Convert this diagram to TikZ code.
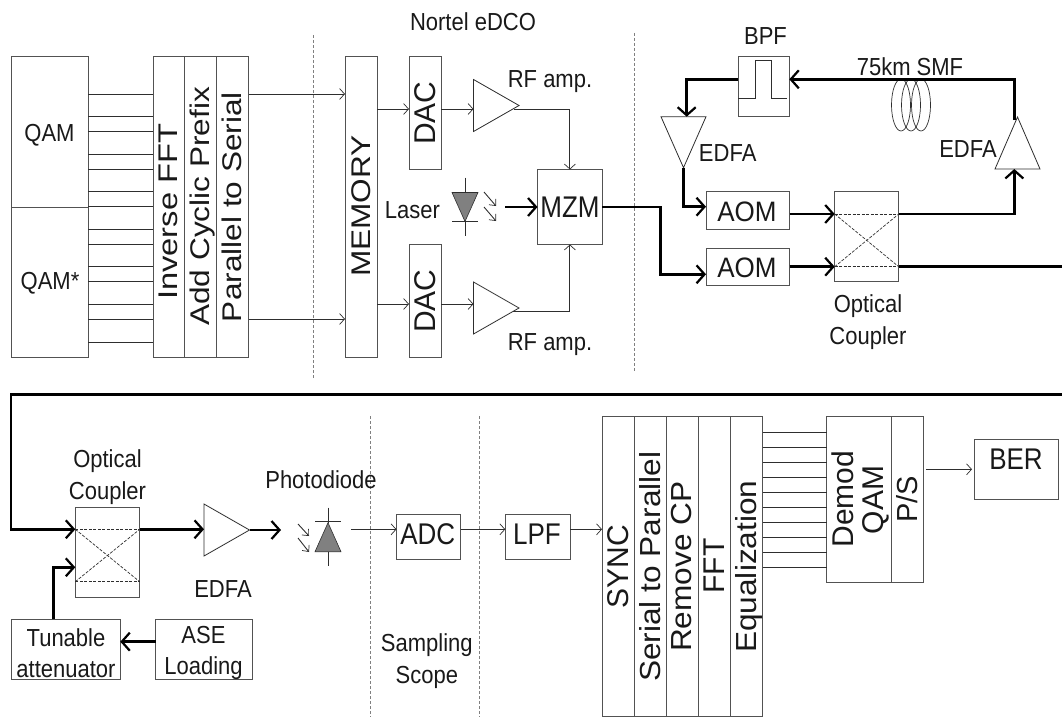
\documentclass[tikz,border=0pt]{standalone}
\usepackage{fontspec}
\setmainfont{Liberation Sans}
\usetikzlibrary{arrows.meta,shapes.geometric,fit}
\definecolor{ln}{gray}{0.18}
\definecolor{bx}{gray}{0.32}
\tikzset{
  x=1pt,y=-1pt,
  box/.style={draw=bx,line width=1pt,inner sep=0pt,outer sep=0pt},
  txt/.style={inner sep=0pt,outer sep=0pt,align=center,font=\fontsize{22}{28}\selectfont,text=black!90},
  hz/.style={txt,yscale=1.12},
  big/.style={txt,font=\fontsize{26}{30}\selectfont,yscale=1.15},
  vert/.style={txt,font=\fontsize{27}{30}\selectfont,rotate=90,xscale=1.17},
  vertb/.style={txt,font=\fontsize{29}{30}\selectfont,rotate=90,xscale=1.09},
  vertc/.style={txt,font=\fontsize{30}{30}\selectfont,rotate=90},
  thin line/.style={draw=ln,line width=0.9pt},
  arr/.style={thin line,-{Straight Barb[length=5pt,width=11pt,line width=0.7pt]}},
  small arr/.style={thin line,-{Straight Barb[length=5pt,width=9pt,line width=0.7pt]}},
  thick arr/.style={draw=black,line width=2.7pt,line join=miter,-{Straight Barb[length=8pt,width=18pt,line width=2.2pt]}},
  thick line/.style={draw=black,line width=2.7pt,line join=miter},
  sep/.style={draw=gray,line width=1pt,dash pattern=on 3pt off 2pt},
  inner dash/.style={draw=ln,line width=0.7pt,dash pattern=on 3pt off 1.5pt},
  amp/.style={draw=ln,line width=0.8pt,fill=white,isosceles triangle,isosceles triangle stretches,inner sep=0pt,outer sep=0pt,minimum width=52pt,minimum height=45.5pt,anchor=lower side},
  diode/.style={draw=ln,line width=0.6pt,fill=gray,isosceles triangle,isosceles triangle stretches,inner sep=0pt,outer sep=0pt,minimum width=26pt,minimum height=29pt,anchor=lower side},
}
\newcommand\bx[5]{\node[box,fit={(#2,#3)(#4,#5)}] (#1) {};}
\begin{document}
\begin{tikzpicture}
\useasboundingbox (0,0) rectangle (1062,717);

% separators
\coordinate (d1t) at (313,35); \coordinate (d1b) at (313,378);
\coordinate (d2t) at (634,33); \coordinate (d2b) at (634,371);
\coordinate (d3t) at (370.5,416); \coordinate (d3b) at (370.5,717);
\coordinate (d4t) at (479.7,416); \coordinate (d4b) at (479.7,717);
\draw[sep] (d1t) -- (d1b);
\draw[sep] (d2t) -- (d2b);
\draw[sep] (d3t) -- (d3b);
\draw[sep] (d4t) -- (d4b);

% transmitter
\bx{qam}{11}{57}{88}{207}
\bx{qams}{11}{207}{88}{357}
\bx{ifft}{153}{57}{184.5}{357}
\bx{acp}{184.5}{57}{216.5}{357}
\bx{pts}{216.5}{57}{248.5}{357}
\bx{mem}{345}{57}{377}{357}
\bx{dac1}{409}{57}{441}{169.5}
\bx{dac2}{409}{244}{441}{357}
\bx{mzm}{537.5}{169.5}{602.3}{244.5}
\foreach \yy in {94,116.7,131.7,154.3,169.3,191.7,206.7}
  \draw[thin line] (qam.east |- 0,\yy) -- (ifft.west |- 0,\yy);
\foreach \yy in {229.3,244.3,266.7,281.7,304.3,319.3,342}
  \draw[thin line] (qams.east |- 0,\yy) -- (ifft.west |- 0,\yy);
\draw[arr] (pts.east |- 0,94) -- (mem.west |- 0,94);
\draw[arr] (pts.east |- 0,319) -- (mem.west |- 0,319);

\node[amp] (amp1) at (473.5,105.5) {};
\node[amp] (amp2) at (473.5,308) {};
\draw[arr] (mem.east |- 0,109) -- (dac1.west |- 0,109);
\draw[arr] (mem.east |- 0,304) -- (dac2.west |- 0,304);
\draw[arr] (dac1.east |- 0,109) -- (amp1.lower side |- 0,109);
\draw[arr] (dac2.east |- 0,304) -- (amp2.lower side |- 0,304);
\draw[arr] ([xshift=-5pt,yshift=-3.5pt]amp1.apex) -| (mzm.north);
\draw[arr] ([xshift=-6pt,yshift=-3.7pt]amp2.apex) -| (mzm.south);

% laser
\node[diode,shape border rotate=270] (las) at (465,192.5) {};
\coordinate (lasT) at (465,177.5); \coordinate (lasB) at (465,236);
\coordinate (lasL) at (452,221); \coordinate (lasR) at (478,221);
\draw[thin line] (lasT) -- (las.lower side);
\draw[thin line] (las.apex) -- (lasB);
\draw[thin line] (lasL) -- (lasR);
\coordinate (la1) at (484,192); \coordinate (la2) at (496,206);
\coordinate (la3) at (484,207); \coordinate (la4) at (496,221);
\draw[small arr] (la1) -- (la2);
\draw[small arr] (la3) -- (la4);
\coordinate (lasout) at (505,207);
\draw[thick arr] (lasout) -- (mzm.west);

% loop
\bx{aom1}{706}{191.7}{789.5}{229.3}
\bx{aom2}{706}{248.3}{789.5}{285.7}
\bx{cpl}{834.7}{191.7}{898.7}{281.7}
\bx{bpf}{738}{56.7}{789.3}{116.7}
\draw[thin line] (bpf.west |- 0,98.5) -- (755.5,98.5) -- (755.5,60.5) -- (771,60.5) -- (771,98.5) -- (787,98.5);
\node[amp,shape border rotate=270,minimum width=45pt,minimum height=51pt] (edfa1) at (683.5,116.7) {};
\node[amp,shape border rotate=90,minimum width=45pt,minimum height=52pt] (edfa2) at (1017.5,169) {};
\foreach \cx in {901,911,921}
  \draw[thin line,line width=0.7pt] (\cx,105) ellipse [x radius=9.5,y radius=26];
\draw[thick arr] (mzm.east) -- ++(58,0) |- (aom2.west |- 0,274.3);
\draw[thick arr] (edfa1.apex) |- (aom1.west |- 0,206.7);
\draw[thick arr] (aom1.east |- 0,214) -- (cpl.west |- 0,214);
\draw[thick arr] (aom2.east |- 0,266.7) -- (cpl.west |- 0,266.7);
\draw[thick arr] (cpl.east |- 0,214) -| ([xshift=-3.2pt]edfa2.lower side);
\draw[thick arr] ([xshift=-3.2pt,yshift=-3pt]edfa2.apex) |- (bpf.east |- 0,79.3);
\draw[thick arr] (bpf.west |- 0,79.3) -| ([xshift=3.2pt]edfa1.lower side);
\draw[inner dash] (cpl.west |- 0,214) -- (cpl.east |- 0,214);
\draw[inner dash] (cpl.west |- 0,266.7) -- (cpl.east |- 0,266.7);
\draw[inner dash] (cpl.west |- 0,214) -- (cpl.east |- 0,266.7);
\draw[inner dash] (cpl.west |- 0,266.7) -- (cpl.east |- 0,214);

% wrap line
\coordinate (wrapTR) at (1062,266.7);
\coordinate (wrapBR) at (1062,394.3);
\coordinate (wrapBL) at (11,394.3);
\draw[thick line] (cpl.east |- 0,266.7) -- (wrapTR);

% receiver left
\bx{cpb}{75.3}{507}{139.7}{597}
\bx{tun}{11}{619.3}{120.3}{679.7}
\bx{ase}{155.5}{619.3}{252}{679.7}
\node[amp] (edfa3) at (204,530) {};
\draw[thick arr] (wrapBR) -- (wrapBL) |- (cpb.west |- 0,529.3);
\draw[thick arr] ([xshift=-12pt]tun.north) |- (cpb.west |- 0,567.3);
\draw[thick arr] (ase.west |- 0,641.7) -- (tun.east |- 0,641.7);
\draw[thick arr] (cpb.east |- 0,529.3) -- (edfa3.lower side |- 0,529.3);
\coordinate (edout) at (281,530);
\draw[thick arr] (edfa3.apex) -- (edout);
\draw[inner dash] (cpb.west |- 0,529.3) -- (cpb.east |- 0,529.3);
\draw[inner dash] (cpb.west |- 0,581.7) -- (cpb.east |- 0,581.7);
\draw[inner dash] (cpb.west |- 0,529.3) -- (cpb.east |- 0,581.7);
\draw[inner dash] (cpb.west |- 0,581.7) -- (cpb.east |- 0,529.3);

% photodiode
\node[diode,shape border rotate=90] (pd) at (328,551.7) {};
\coordinate (pdT) at (328,507.5); \coordinate (pdB) at (328,566);
\coordinate (pdL) at (315,521); \coordinate (pdR) at (341,521);
\draw[thin line] (pdT) -- (pd.apex);
\draw[thin line] (pd.lower side) -- (pdB);
\draw[thin line] (pdL) -- (pdR);
\coordinate (pa1) at (298,524); \coordinate (pa2) at (309,536);
\coordinate (pa3) at (298,538); \coordinate (pa4) at (309,552);
\draw[small arr] (pa1) -- (pa2);
\draw[small arr] (pa3) -- (pa4);
\coordinate (pdout) at (351,529.3);

% receiver right
\bx{adc}{396.5}{514.3}{460.7}{559.5}
\bx{lpf}{505.3}{514.3}{570}{559.5}
\bx{sync}{602}{416.7}{634}{716.7}
\bx{stp}{634}{416.7}{666}{716.7}
\bx{rcp}{666}{416.7}{698.3}{716.7}
\bx{fft}{698.3}{416.7}{730.4}{716.7}
\bx{equ}{730.4}{416.7}{762.6}{716.7}
\bx{dem}{826.7}{416.7}{891}{582}
\bx{ps}{891}{416.7}{923.2}{582}
\bx{ber}{974.5}{439.3}{1058}{499.3}
\draw[arr] (pdout) -- (adc.west |- 0,529.3);
\draw[arr] (adc.east |- 0,529.3) -- (lpf.west |- 0,529.3);
\draw[arr] (lpf.east |- 0,529.3) -- (sync.west |- 0,529.3);
\foreach \yy in {432,447,462,477,492,507,522,537,552,567.3}
  \draw[thin line] (equ.east |- 0,\yy) -- (dem.west |- 0,\yy);
\draw[arr] ([xshift=3pt]ps.east |- 0,469.3) -- ([xshift=-2.5pt]ber.west |- 0,469.3);

% labels
\node[hz] (tqam) at (49.5,135) {QAM};
\node[hz] (tqams) at (50,283) {QAM*};
\node[vert,xscale=1.035] (tifft) at (168.5,211.7) {Inverse FFT};
\node[vert] (tacp) at (203,206.3) {Add Cyclic Prefix};
\node[vert] (tpts) at (232,207) {Parallel to Serial};
\node[vert] (tmem) at (361,206) {MEMORY};
\node[vertc] (tdac1) at (425,113) {DAC};
\node[vertc] (tdac2) at (425,301) {DAC};
\node[hz] (tnor) at (473,22) {Nortel eDCO};
\node[hz] (trf1) at (550,82) {RF amp.};
\node[hz] (trf2) at (550,345) {RF amp.};
\node[hz] (tlas) at (412.5,210) {Laser};
\node[big] (tmzm) at (570,207) {MZM};
\node[hz] (tbpf) at (765.5,36) {BPF};
\node[hz] (tsmf) at (910,66.7) {75km SMF};
\node[hz] (te1) at (727.7,153) {EDFA};
\node[hz] (te2) at (968,149) {EDFA};
\node[big,yscale=0.94] (taom1) at (747,211.7) {AOM};
\node[big,yscale=0.94] (taom2) at (747,268) {AOM};
\node[hz] (tcp1) at (868,322) {Optical\\Coupler};
\node[hz] (tcp2) at (107.5,477) {Optical\\Coupler};
\node[hz] (te3) at (223,589) {EDFA};
\node[hz] (tpd) at (321,480) {Photodiode};
\node[hz] (ttun) at (66,653) {Tunable\\attenuator};
\node[hz] (tase) at (203.5,653) {ASE\\Loading};
\node[hz] (tsam) at (426.8,661) {Sampling\\Scope};
\node[big] (tadc) at (427.7,534) {ADC};
\node[big] (tlpf) at (537,534) {LPF};
\node[big] (tber) at (1016,459.3) {BER};
\node[vertc] (tsync) at (618.5,566.7) {SYNC};
\node[vertb] (tstp) at (649.7,566.7) {Serial to Parallel};
\node[vertb] (trcp) at (681.4,566.7) {Remove CP};
\node[vertc] (tfft) at (714,566) {FFT};
\node[vertb] (tequ) at (748.5,566.7) {Equalization};
\node[vertc] (tdem) at (843,499) {Demod};
\node[vertc] (tq2) at (875.7,500) {QAM};
\node[vertc,font=\fontsize{29}{30}\selectfont] (tps) at (907,499.3) {P/S};
\end{tikzpicture}
\end{document}
